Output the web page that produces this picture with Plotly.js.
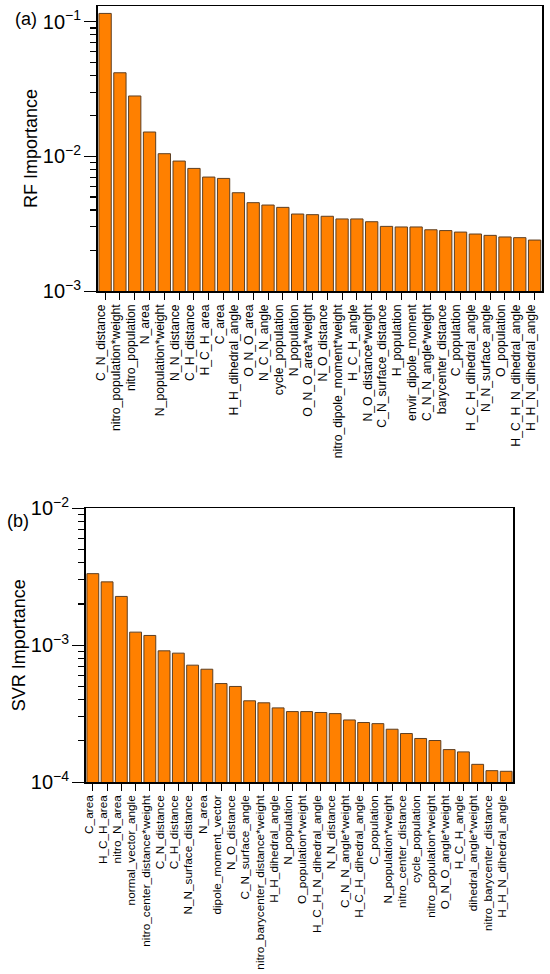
<!DOCTYPE html>
<html>
<head>
<meta charset="utf-8">
<script src="https://cdn.plot.ly/plotly-3.0.1.min.js"></script>
<style>html,body{margin:0;padding:0;background:#fff;}#chart{width:550px;height:974px;}</style>
</head>
<body>
<div id="chart"></div>
<script>
const rfFeatures = ["C_N_distance","nitro_population*weight","nitro_population","N_area","N_population*weight","N_N_distance","C_H_distance","H_C_H_area","C_area","H_H_dihedral_angle","O_N_O_area","N_C_N_angle","cycle_population","N_population","O_N_O_area*weight","N_O_distance","nitro_dipole_moment*weight","H_C_H_angle","N_O_distance*weight","C_N_surface_distance","H_population","envir_dipole_moment","C_N_N_angle*weight","barycenter_distance","C_population","H_C_H_dihedral_angle","N_N_surface_angle","O_population","H_C_H_N_dihedral_angle","H_H_N_dihedral_angle"];
const rfImportance = [0.1153,0.0418,0.0281,0.01517,0.01047,0.00923,0.00814,0.00702,0.00686,0.00537,0.00453,0.00435,0.00418,0.00373,0.00369,0.00359,0.00343,0.00343,0.00327,0.00302,0.00299,0.00299,0.00285,0.00281,0.00274,0.00265,0.00259,0.00252,0.00249,0.00239];

const svrFeatures = ["C_area","H_C_H_area","nitro_N_area","normal_vector_angle","nitro_center_distance*weight","C_N_distance","C_H_distance","N_N_surface_distance","N_area","dipole_moment_vector","N_O_distance","C_N_surface_angle","nitro_barycenter_distance*weight","H_H_dihedral_angle","N_population","O_population*weight","H_C_H_N_dihedral_angle","N_N_distance","C_N_N_angle*weight","H_C_H_dihedral_angle","C_population","N_population*weight","nitro_center_distance","cycle_population","nitro_population*weight","O_N_O_angle*weight","H_C_H_angle","dihedral_angle*weight","nitro_barycenter_distance","H_H_N_dihedral_angle"];
const svrImportance = [0.00333,0.00290,0.00227,0.001245,0.001177,0.000909,0.000874,0.000714,0.000667,0.000524,0.000499,0.000392,0.000379,0.000348,0.000327,0.000327,0.000322,0.000316,0.000284,0.000272,0.000267,0.000243,0.000226,0.000208,0.000201,0.0001725,0.000166,0.0001346,0.000121,0.0001197];

const W = 550, H = 974;
const FONT = "Liberation Sans, Arial, sans-serif";
const barStyle = {color: "#FF8000", line: {color: "#5e3f22", width: 1}};
const rfRange = [-3, -0.883];
const svrRange = [-4, -2];
const rfXDom = [97.7 / W, 542 / W];
const svrXDom = [85.7 / W, 513.3 / W];

const traces = [
  {type: "bar", x: rfFeatures, y: rfImportance, xaxis: "x", yaxis: "y", marker: barStyle, hoverinfo: "x+y"},
  {type: "bar", x: svrFeatures, y: svrImportance, xaxis: "x2", yaxis: "y2", marker: barStyle, hoverinfo: "x+y"}
];

function xAx(domain, anchor, size) {
  return {
    domain: domain, anchor: anchor, type: "category",
    tickmode: "linear", tick0: 0, dtick: 1,
    showline: true, mirror: true, linecolor: "#000", linewidth: 1.5,
    ticks: "outside", ticklen: 7, tickwidth: 1, tickcolor: "#000",
    tickangle: -90, tickfont: {family: FONT, size: size, color: "#000"},
    ticklabelshift: -4,
    showgrid: false, zeroline: false
  };
}
function yAx(domain, anchor, range, title) {
  return {
    domain: domain, anchor: anchor, type: "log", range: range,
    showline: true, mirror: true, linecolor: "#000", linewidth: 1.5,
    dtick: 1, exponentformat: "power",
    ticks: "outside", ticklen: 12, tickwidth: 1, tickcolor: "#000",
    tickfont: {family: FONT, size: 16, color: "#000"},
    minor: {ticks: "outside", ticklen: 6, tickwidth: 1.2, tickcolor: "#000", dtick: "D1", showgrid: false},
    showgrid: false, zeroline: false,
    title: {text: title, font: {family: FONT, size: 18, color: "#000"}, standoff: 0}
  };
}

const layout = {
  width: W, height: H,
  margin: {l: 0, r: 0, t: 0, b: 0},
  paper_bgcolor: "#fff", plot_bgcolor: "#fff",
  showlegend: false, bargap: 0.17,
  font: {family: FONT, color: "#000"},
  xaxis: xAx(rfXDom, "y", 12.2),
  yaxis: yAx([1 - 291 / H, 1 - 6 / H], "x", rfRange, "RF Importance"),
  xaxis2: xAx(svrXDom, "y2", 11.8),
  yaxis2: yAx([1 - 782 / H, 1 - 508.3 / H], "x2", svrRange, "SVR Importance"),
  annotations: [
    {text: "(a)", x: 13 / W, y: 1 - 19 / H, xref: "paper", yref: "paper", xanchor: "left", yanchor: "middle", showarrow: false, font: {family: FONT, size: 18, color: "#000"}},
    {text: "(b)", x: 5 / W, y: 1 - 521 / H, xref: "paper", yref: "paper", xanchor: "left", yanchor: "middle", showarrow: false, font: {family: FONT, size: 18, color: "#000"}}
  ]
};

Plotly.newPlot("chart", traces, layout, {displayModeBar: false, staticPlot: true});
</script>
</body>
</html>
